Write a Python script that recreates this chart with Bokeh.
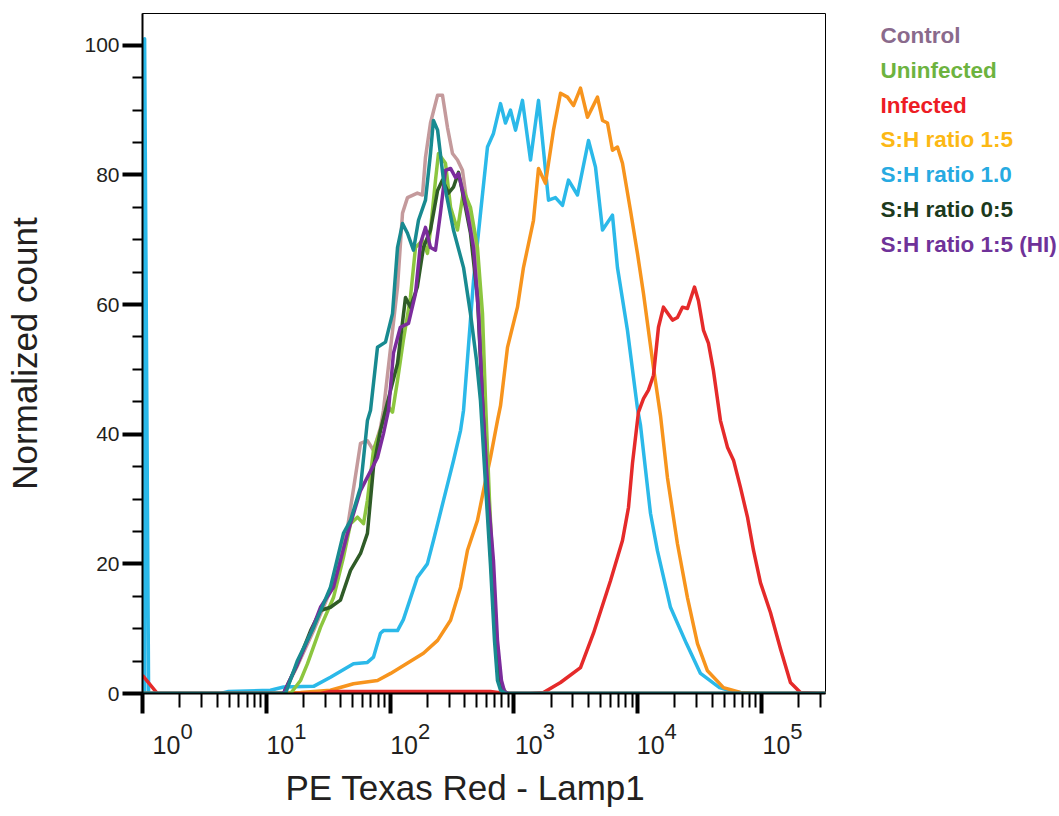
import math
from bokeh.plotting import figure
from bokeh.layouts import row
from bokeh.models import Range1d, FixedTicker, LogAxis, Title, CustomJSTickFormatter
from bokeh.core.properties import value
from bokeh.embed import file_html
from bokeh.resources import INLINE

# ---------------- data ----------------
# x = PE Texas Red - Lamp1 intensity, y = normalized count
cyan_x = [1.04, 1.04, 1.12, 4.27, 4.95, 10.8, 13.8, 24.1, 33.0, 50.6, 65.6, 73.4, 83.6, 88.4, 114.8, 128, 166, 200,
          224, 270, 325, 371, 392, 472, 537, 612, 684, 780, 855, 939, 1031, 1173, 1362, 1581, 1904, 2168, 2470, 2761,
          3265, 4006, 4563, 5199, 6256, 6866, 8272, 9957, 10534, 12687, 14450, 18403, 24770, 32150, 45800, 61700,
          81470, 329000]
cyan_y = [0, 101, 0, 0, 0.3, 0.5, 1.0, 1.1, 2.5, 4.6, 4.8, 5.6, 9.3, 9.7, 9.7, 11.4, 17.9, 20.0, 23.6, 29.8, 35.9,
          40.6, 43.7, 63.7, 74.0, 84.3, 86.4, 91.0, 88.0, 90.0, 86.9, 91.5, 82.3, 91.5, 76.1, 76.5, 75.3, 79.2, 76.9,
          85.3, 81.2, 71.5, 73.8, 65.7, 56.0, 44.0, 41.4, 27.8, 22.0, 13.3, 7.7, 3.1, 0.9, 0.2, 0, 0]

orange_x = [1.0, 10.8, 18.9, 33.0, 50.6, 79.1, 101, 121, 186, 242, 308, 371, 422, 508, 568, 647, 737, 780, 888, 1069,
            1195, 1440, 1581, 1800, 2089, 2380, 2710, 3030, 3452, 3932, 4735, 5199, 5704, 6256, 6866, 7537, 8747, 9957,
            11140, 13420, 15280, 17400, 20950, 25240, 30410, 36630, 49330, 67640, 98120, 329000]
orange_y = [0, 0, 0.15, 0.5, 1.5, 2.0, 3.1, 4.0, 6.2, 8.2, 11.3, 16.4, 22.1, 26.7, 31.3, 36.4, 42.1, 44.4, 53.4, 59.6,
            65.7, 73.0, 81.0, 78.7, 86.9, 92.6, 92.0, 90.7, 93.4, 88.9, 92.0, 88.4, 88.0, 83.8, 84.3, 81.8, 74.5, 67.9,
            61.7, 50.2, 42.9, 33.3, 23.1, 14.8, 7.7, 3.5, 0.9, 0.15, 0, 0]

red_x = [1.0, 1.32, 27.4, 33.0, 647, 855, 1362, 1734, 2380, 3452, 4395, 6030, 7537, 8430, 9078, 10145, 11140, 12220,
         13420, 14720, 16150, 19100, 20950, 23000, 25240, 28770, 30970, 34030, 37330, 40930, 46630, 53100, 59430,
         67640, 77080, 86170, 98120, 118170, 142330, 171410, 206450, 329000]
red_y = [2.8, 0, 0, 0.3, 0.3, 0, 0, 0.15, 1.7, 4.0, 9.3, 17.4, 23.6, 28.7, 35.5, 43.4, 45.5, 46.8, 49.1, 56.5, 59.6,
         57.6, 58.0, 59.6, 59.4, 62.7, 60.6, 56.0, 54.0, 49.8, 42.1, 38.0, 36.0, 31.8, 27.2, 22.1, 17.1, 12.5, 6.9,
         1.7, 0.15, 0]

control_x = [1.0, 13.77, 17.87, 24.1, 33.0, 45.3, 57.7, 65.6, 73.4, 83.6, 88.4, 101, 114.8, 126, 138.2, 166, 182.7,
             193.1, 212, 242, 265, 290.9, 319.2, 350.4, 384.4, 422, 471.8, 508, 537, 568, 612, 671.5, 723.6, 780, 855,
             329000]
control_y = [0, 0, 4.3, 9.7, 15.9, 25.6, 38.6, 39.0, 37.5, 41.0, 43.7, 53.4, 62.7, 74.1, 76.5, 77.2, 76.9, 82.7, 88.0,
             92.3, 92.3, 87.3, 83.3, 82.3, 80.7, 75.0, 70.4, 63.7, 56.0, 45.2, 29.8, 17.4, 6.6, 1.2, 0, 0]

uninf_x = [1.0, 15.7, 18.9, 21.52, 27.4, 34.9, 42.0, 47.9, 54.5, 61.0, 65.6, 73.4, 83.6, 95.3, 104.6, 114.8, 128, 146,
           160.4, 182.7, 200.5, 212, 232.7, 246, 280.2, 308, 350.4, 392, 446, 508, 557.7, 589.7, 635.2, 684, 737,
           793.9, 871.3, 329000]
uninf_y = [0, 0, 2.0, 4.6, 10.2, 14.8, 21.0, 26.2, 27.2, 26.2, 29.8, 37.5, 40.6, 44.4, 43.4, 48.3, 54.5, 61.1, 68.8,
           69.9, 67.9, 71.5, 79.2, 83.3, 81.8, 75.0, 71.5, 77.6, 75.0, 68.8, 58.6, 45.2, 29.8, 17.4, 6.6, 1.2, 0, 0]

sh05_x = [1.0, 13.77, 17.87, 22.8, 27.4, 33.0, 39.7, 47.9, 57.7, 65.6, 73.4, 83.6, 91.8, 101, 114.8, 133.2, 146, 166,
          186, 212, 242, 265, 296.3, 325, 356.9, 392, 446, 508, 557.7, 612, 659.3, 710.1, 765.1, 839.7, 329000]
sh05_y = [0, 0, 4.6, 9.7, 12.8, 13.3, 14.4, 19.0, 21.6, 24.7, 34.9, 40.6, 43.7, 46.8, 50.9, 61.1, 59.6, 62.7, 68.8,
          71.5, 77.6, 79.2, 77.2, 78.1, 80.4, 76.5, 71.0, 61.1, 45.2, 29.8, 19.0, 8.2, 1.7, 0, 0]

hi_x = [1.0, 13.77, 17.87, 22.8, 27.4, 34.9, 45.3, 57.7, 79.1, 88.4, 97.1, 106.5, 121, 140.8, 160.4, 176, 193.1, 212,
        232.7, 255, 280.2, 308, 337.6, 356.9, 384.4, 422, 471.8, 517.7, 557.7, 623.5, 684, 737, 793.9, 839.7, 904.3,
        329000]
hi_y = [0, 0, 4.6, 9.3, 13.3, 16.4, 24.7, 31.3, 36.4, 40.1, 43.7, 52.5, 56.5, 57.1, 61.7, 69.4, 71.9, 68.8, 68.4, 74.1,
        80.7, 81.0, 79.6, 80.2, 77.6, 74.1, 68.8, 58.6, 45.2, 29.8, 20.5, 8.2, 2.0, 0.3, 0, 0]

# teal trace present in the figure without a legend entry
teal_x = [1.0, 14.29, 17.87, 24.1, 33.0, 42.0, 47.9, 57.7, 65.6, 69.5, 79.1, 91.8, 104.6, 114.8, 126, 138.2, 154.5,
          169.6, 193.1, 212, 224, 242, 270, 325, 392, 446, 498.8, 537, 600.8, 647, 697, 737, 780, 855, 329000]
teal_y = [0, 0, 5.1, 10.2, 16.4, 24.7, 26.7, 31.8, 42.1, 43.7, 53.4, 54.2, 58.6, 68.8, 72.5, 71.0, 68.4, 73.0, 76.1,
          83.3, 88.4, 86.9, 79.2, 71.5, 65.7, 58.6, 51.4, 45.2, 29.8, 19.8, 8.2, 2.0, 0.5, 0, 0]

legend_labels = ["Control", "Uninfected", "Infected", "S:H ratio 1:5", "S:H ratio 1.0", "S:H ratio 0:5",
                 "S:H ratio 1:5 (HI)"]
legend_colors = ["#8a6a8c", "#6db33f", "#ed1c24", "#fcb814", "#27aae1", "#1c3a1c", "#6f3299"]

x_major_ticks = [1, 10, 100, 1000, 10000, 100000]
x_tick_base = "10"
x_tick_exponents = ["0", "1", "2", "3", "4", "5"]
x_minor_ticks = [m * 10 ** d for d in range(0, 6) for m in range(2, 10) if m * 10 ** d < 329000]
y_major_ticks = [0, 20, 40, 60, 80, 100]
y_minor_ticks = [v for v in range(5, 100, 5) if v % 20 != 0]

X_START, X_END = 1.0, 329000
Y_START, Y_END = 0, 104.9

# ---------------- layout constants ----------------
TXT = "#231f20"
FONT = "Liberation Sans"
W_MAIN, H = 840, 816
FRAME_L, FRAME_T, FRAME_R, FRAME_B = 142, 13, 825, 693
frame_w = FRAME_R - FRAME_L
px_per_decade = frame_w / math.log10(X_END / X_START)
# horizontal offsets (px) of the "10" part of each tick label from its tick
base_off = [24, 14, 14, 15, 13, 15]
exp_extra = 20

p = figure(width=W_MAIN, height=H, x_axis_type="log",
           x_range=Range1d(X_START, X_END), y_range=Range1d(Y_START, Y_END),
           output_backend="svg", toolbar_location=None,
           min_border_left=FRAME_L, min_border_right=W_MAIN - FRAME_R,
           min_border_top=FRAME_T, min_border_bottom=H - FRAME_B)
p.grid.visible = False
p.outline_line_color = "black"
p.outline_line_width = 1
p.background_fill_color = "white"
p.border_fill_color = "white"

xa = p.xaxis[0]
xa.ticker = FixedTicker(ticks=x_major_ticks, minor_ticks=x_minor_ticks)
xa.formatter = CustomJSTickFormatter(code="return '';")
xa.major_label_text_font_size = "1px"
xa.major_label_standoff = 0
xa.axis_line_width = 2
xa.axis_line_color = "black"
xa.major_tick_line_width = 4
xa.major_tick_out = 20
xa.major_tick_in = 0
xa.minor_tick_line_width = 2
xa.minor_tick_out = 14
xa.minor_tick_in = 0

ya = p.yaxis[0]
ya.ticker = FixedTicker(ticks=y_major_ticks, minor_ticks=y_minor_ticks)
ya.axis_line_width = 2
ya.axis_line_color = "black"
ya.major_tick_line_width = 4
ya.major_tick_out = 20
ya.major_tick_in = 0
ya.minor_tick_line_width = 2
ya.minor_tick_out = 10
ya.minor_tick_in = 0
ya.major_label_standoff = 3
ya.major_label_text_font = FONT
ya.major_label_text_font_size = "21px"
ya.major_label_text_color = TXT
ya.axis_label = "Normalized count"
ya.axis_label_text_font = FONT
ya.axis_label_text_font_size = "35px"
ya.axis_label_text_font_style = "normal"
ya.axis_label_text_color = TXT
ya.axis_label_standoff = 37


def label_axis(offsets_px, labels, size, standoff):
    pos = [t * 10 ** (o / px_per_decade) for t, o in zip(x_major_ticks, offsets_px)]
    ax = LogAxis(ticker=FixedTicker(ticks=pos, minor_ticks=[]),
                 formatter=CustomJSTickFormatter(args=dict(labels=labels), code="return labels[index];"),
                 axis_line_color=None, major_tick_line_color=None, minor_tick_line_color=None,
                 major_tick_out=0, major_tick_in=0, minor_tick_out=0, minor_tick_in=0,
                 major_label_standoff=standoff, major_label_text_font=FONT,
                 major_label_text_font_size=size, major_label_text_color=TXT)
    p.add_layout(ax, "below")


# superscript exponents first (closer to the axis), then the "10" bases
label_axis([o + exp_extra for o in base_off], x_tick_exponents, "22px", 10)
label_axis(base_off, [x_tick_base] * len(x_major_ticks), "25px", -6)

p.add_layout(Title(text="PE Texas Red - Lamp1", align="left", offset=143, standoff=19,
                   text_font=FONT, text_font_size="35px", text_font_style="normal",
                   text_color=TXT), "below")

series = [
    (cyan_x, cyan_y, "#2bb9e9"),
    (orange_x, orange_y, "#f7941d"),
    (red_x, red_y, "#e52a2a"),
    (control_x, control_y, "#c49a9c"),
    (uninf_x, uninf_y, "#8cc63f"),
    (sh05_x, sh05_y, "#2f5b27"),
    (hi_x, hi_y, "#7b2c9c"),
    (teal_x, teal_y, "#188a90"),
]
for xs, ys, col in series:
    p.line(xs, ys, line_color=col, line_width=3.5, line_join="round")

# ---------------- legend panel (coloured text only) ----------------
# its frame is aligned with the main frame by the row layout, so its y range uses page pixels
W_LEG = 217
lg = figure(width=W_LEG, height=H, x_range=Range1d(0, W_LEG), y_range=Range1d(FRAME_B, FRAME_T),
            output_backend="svg", toolbar_location=None, min_border=0,
            min_border_top=FRAME_T, min_border_bottom=H - FRAME_B)
lg.axis.visible = False
lg.grid.visible = False
lg.outline_line_color = None
lg.background_fill_color = "white"
lg.border_fill_color = "white"
leg_x = [880 - W_MAIN for _ in legend_labels]
leg_y = [35 + 34.8 * i for i in range(len(legend_labels))]
lg.text(x=leg_x, y=leg_y, text=legend_labels, text_color=legend_colors,
        text_font=value(FONT), text_font_size="22.5px", text_font_style="bold",
        text_align="left", text_baseline="alphabetic")

layout = row(p, lg)
open("out.html", "w").write(file_html(layout, INLINE))
